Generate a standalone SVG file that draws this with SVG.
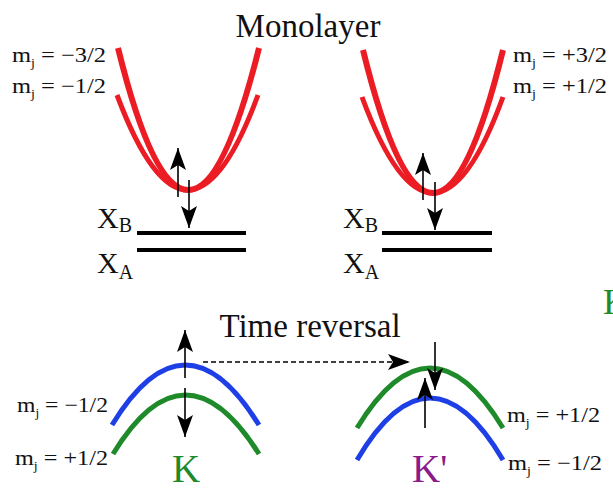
<svg xmlns="http://www.w3.org/2000/svg" width="613" height="490" viewBox="0 0 613 490">
<style>
text{fill:#111}
.lbl{font-size:21px}
.sub{font-size:12px}
.big{font-size:33px}
.red{fill:none;stroke:#ec1c24;stroke-width:6;stroke-linecap:butt}
.blue{fill:none;stroke:#1f3fe6;stroke-width:5}
.green{fill:none;stroke:#1e8a2a;stroke-width:5}
.lvl{stroke:#000;stroke-width:4}
.arr{stroke:#000;stroke-width:1.6;fill:none}
.dash{stroke:#000;stroke-width:1.6;fill:none;stroke-dasharray:5 3}
.head{fill:#000}
</style>
<defs>
<marker id="ah" viewBox="0 0 22 16" refX="22" refY="8" markerWidth="22" markerHeight="16" markerUnits="userSpaceOnUse" orient="auto">
<path d="M0,0 L22,8 L0,16 L5,8 Z" class="head"/>
</marker>
</defs>

<text class="big" font-family="Liberation Serif, Times New Roman, serif" x="308" y="37" text-anchor="middle">Monolayer</text>

<g id="monolayer-left" font-family="Liberation Serif, Times New Roman, serif">
<path class="red" d="M118,48 Q188,332 259,48"/>
<path class="red" d="M117,95 Q188,285 258,95" style="stroke-width:5"/>
<text class="lbl" x="12" y="62" textLength="94" lengthAdjust="spacingAndGlyphs">m<tspan class="sub" dy="5">j</tspan><tspan dy="-5"> = −3/2</tspan></text>
<text class="lbl" x="12" y="93" textLength="94" lengthAdjust="spacingAndGlyphs">m<tspan class="sub" dy="5">j</tspan><tspan dy="-5"> = −1/2</tspan></text>
<line class="lvl" x1="137" y1="233" x2="246" y2="233"/>
<line class="lvl" x1="137" y1="250" x2="246" y2="250"/>
<text x="97" y="228" font-size="30">X<tspan dy="4" font-size="20">B</tspan></text>
<text x="97" y="273" font-size="30">X<tspan dy="6" font-size="20">A</tspan></text>
</g>

<g id="monolayer-right" font-family="Liberation Serif, Times New Roman, serif">
<path class="red" d="M363,50 Q433,336 503,50"/>
<path class="red" d="M362,97 Q433,289 503,97" style="stroke-width:5"/>
<text class="lbl" x="513" y="62" textLength="94" lengthAdjust="spacingAndGlyphs">m<tspan class="sub" dy="5">j</tspan><tspan dy="-5"> = +3/2</tspan></text>
<text class="lbl" x="513" y="93" textLength="94" lengthAdjust="spacingAndGlyphs">m<tspan class="sub" dy="5">j</tspan><tspan dy="-5"> = +1/2</tspan></text>
<line class="lvl" x1="382" y1="233" x2="492" y2="233"/>
<line class="lvl" x1="382" y1="250" x2="492" y2="250"/>
<text x="343" y="228" font-size="30">X<tspan dy="4" font-size="20">B</tspan></text>
<text x="343" y="273" font-size="30">X<tspan dy="6" font-size="20">A</tspan></text>
</g>

<text class="big" font-family="Liberation Serif, Times New Roman, serif" x="310" y="337" text-anchor="middle">Time reversal</text>

<g id="valley-K" font-family="Liberation Serif, Times New Roman, serif">
<path class="blue" d="M112,425 Q185,305 259,425"/>
<path class="green" d="M113,454 Q185,336 259,454"/>
<text class="lbl" x="17" y="412" textLength="91" lengthAdjust="spacingAndGlyphs">m<tspan class="sub" dy="5">j</tspan><tspan dy="-5"> = −1/2</tspan></text>
<text class="lbl" x="15" y="465" textLength="93" lengthAdjust="spacingAndGlyphs">m<tspan class="sub" dy="5">j</tspan><tspan dy="-5"> = +1/2</tspan></text>
<text x="172" y="482" font-size="39" fill="#1e8a2a" style="fill:#1e8a2a">K</text>
</g>

<g id="valley-Kp" font-family="Liberation Serif, Times New Roman, serif">
<path class="green" d="M357,428 Q430,308 503,428"/>
<path class="blue" d="M357,460 Q430,336 503,460"/>
<text class="lbl" x="507" y="422" textLength="93" lengthAdjust="spacingAndGlyphs">m<tspan class="sub" dy="5">j</tspan><tspan dy="-5"> = +1/2</tspan></text>
<text class="lbl" x="508" y="470" textLength="94" lengthAdjust="spacingAndGlyphs">m<tspan class="sub" dy="5">j</tspan><tspan dy="-5"> = −1/2</tspan></text>
<text x="412" y="482" font-size="39" style="fill:#8a1a8a">K'</text>
</g>

<text x="603" y="314" font-family="Liberation Serif, Times New Roman, serif" font-size="36" style="fill:#1e8a2a">K</text>

<g id="connectors">
<line class="arr" x1="178" y1="197" x2="178" y2="148" marker-end="url(#ah)"/>
<line class="arr" x1="189" y1="180" x2="189" y2="228" marker-end="url(#ah)"/>
<line class="arr" x1="423" y1="200" x2="423" y2="153" marker-end="url(#ah)"/>
<line class="arr" x1="435" y1="182" x2="435" y2="230" marker-end="url(#ah)"/>
<line class="arr" x1="185" y1="378" x2="185" y2="330" marker-end="url(#ah)"/>
<line class="arr" x1="185" y1="388" x2="185" y2="437" marker-end="url(#ah)"/>
<line class="dash" x1="203" y1="362" x2="410" y2="362" marker-end="url(#ah)"/>
<line class="arr" x1="435" y1="342" x2="435" y2="390" marker-end="url(#ah)"/>
<line class="arr" x1="425" y1="428" x2="425" y2="378" marker-end="url(#ah)"/>
</g>
</svg>
